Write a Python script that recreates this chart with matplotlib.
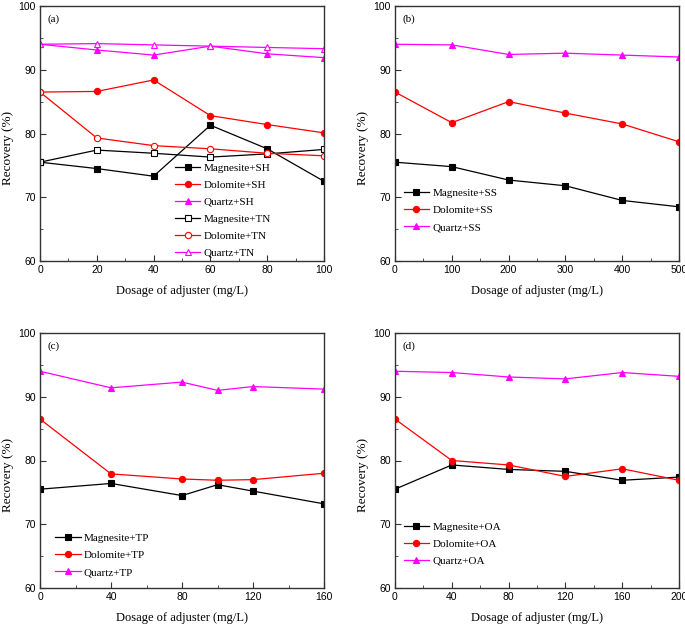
import matplotlib.pyplot as plt
from matplotlib.ticker import MultipleLocator

plt.rcParams['font.family'] = 'Liberation Serif'

# panel (a): SH and TN
dose_a = [0, 20, 40, 60, 80, 100]
mag_sh = [75.5, 74.5, 73.3, 81.3, 77.6, 72.5]
dol_sh = [86.5, 86.6, 88.4, 82.8, 81.4, 80.1]
qtz_sh = [94.0, 93.1, 92.3, 93.7, 92.5, 91.9]
mag_tn = [75.5, 77.4, 76.9, 76.3, 76.8, 77.5]
dol_tn = [86.5, 79.3, 78.1, 77.6, 76.9, 76.5]
qtz_tn = [94.0, 94.1, 93.9, 93.7, 93.5, 93.3]

# panel (b): SS
dose_b = [0, 100, 200, 300, 400, 500]
mag_ss = [75.5, 74.8, 72.7, 71.8, 69.5, 68.5]
dol_ss = [86.5, 81.7, 85.0, 83.2, 81.5, 78.7]
qtz_ss = [94.0, 93.9, 92.4, 92.6, 92.3, 92.0]

# panel (c): TP
dose_c = [0, 40, 80, 100, 120, 160]
mag_tp = [75.5, 76.4, 74.5, 76.2, 75.2, 73.2]
dol_tp = [86.5, 77.9, 77.1, 76.9, 77.0, 78.0]
qtz_tp = [94.0, 91.4, 92.3, 91.0, 91.6, 91.2]

# panel (d): OA
dose_d = [0, 40, 80, 120, 160, 200]
mag_oa = [75.5, 79.3, 78.6, 78.3, 76.9, 77.4]
dol_oa = [86.5, 80.0, 79.3, 77.5, 78.7, 76.9]
qtz_oa = [94.0, 93.8, 93.1, 92.8, 93.8, 93.2]

W, H = 685, 630
fig = plt.figure(figsize=(W / 100, H / 100), dpi=100)


def make_ax(left, top, panel, xmax, major, minor):
    ax = fig.add_axes([left / W, (H - top - 255) / H, 284 / W, 255 / H])
    ax.set_xlim(0, xmax)
    ax.set_ylim(60, 100)
    ax.xaxis.set_major_locator(MultipleLocator(major))
    ax.xaxis.set_minor_locator(MultipleLocator(minor))
    ax.yaxis.set_major_locator(MultipleLocator(10))
    ax.yaxis.set_minor_locator(MultipleLocator(5))
    ax.tick_params(which='both', direction='in', color='#333333')
    ax.tick_params(which='major', length=4, pad=3)
    ax.tick_params(which='minor', length=2.5)
    for lab in ax.get_xticklabels() + ax.get_yticklabels():
        lab.set_fontfamily('Liberation Sans')
        lab.set_fontsize(7.5)
    for s in ax.spines.values():
        s.set_color('#333333')
        s.set_linewidth(1.0)
    ax.set_xlabel('Dosage of adjuster (mg/L)', fontsize=9, labelpad=7)
    ax.set_ylabel('Recovery (%)', fontsize=9.5)
    ax.yaxis.set_label_coords(-0.092, 0.443)
    ax.text(0.025, 0.94, panel, transform=ax.transAxes, fontsize=8)
    return ax


def series(ax, x, y, color, marker, label, filled=True):
    ax.plot(x, y, color=color, lw=0.9, marker=marker, ms=4.5,
            mfc=color if filled else 'white', mec=color, mew=0.8, label=label)


def legend(ax, x, y):
    ax.legend(loc='upper left', bbox_to_anchor=(x, y), frameon=False,
              fontsize=8, borderpad=0, borderaxespad=0, labelspacing=0.65,
              handlelength=2.3, handletextpad=0.3)


ax = make_ax(40, 6, '(a)', 100, 20, 10)
series(ax, dose_a, mag_sh, 'black', 's', 'Magnesite+SH')
series(ax, dose_a, dol_sh, 'red', 'o', 'Dolomite+SH')
series(ax, dose_a, qtz_sh, 'magenta', '^', 'Quartz+SH')
series(ax, dose_a, mag_tn, 'black', 's', 'Magnesite+TN', False)
series(ax, dose_a, dol_tn, 'red', 'o', 'Dolomite+TN', False)
series(ax, dose_a, qtz_tn, 'magenta', '^', 'Quartz+TN', False)
legend(ax, 0.475, 0.385)

ax = make_ax(395, 6, '(b)', 500, 100, 50)
series(ax, dose_b, mag_ss, 'black', 's', 'Magnesite+SS')
series(ax, dose_b, dol_ss, 'red', 'o', 'Dolomite+SS')
series(ax, dose_b, qtz_ss, 'magenta', '^', 'Quartz+SS')
legend(ax, 0.03, 0.284)

ax = make_ax(40, 333, '(c)', 160, 40, 20)
series(ax, dose_c, mag_tp, 'black', 's', 'Magnesite+TP')
series(ax, dose_c, dol_tp, 'red', 'o', 'Dolomite+TP')
series(ax, dose_c, qtz_tp, 'magenta', '^', 'Quartz+TP')
legend(ax, 0.053, 0.214)

ax = make_ax(395, 333, '(d)', 200, 40, 20)
series(ax, dose_d, mag_oa, 'black', 's', 'Magnesite+OA')
series(ax, dose_d, dol_oa, 'red', 'o', 'Dolomite+OA')
series(ax, dose_d, qtz_oa, 'magenta', '^', 'Quartz+OA')
legend(ax, 0.03, 0.259)

fig.savefig('out.png', dpi=100)
